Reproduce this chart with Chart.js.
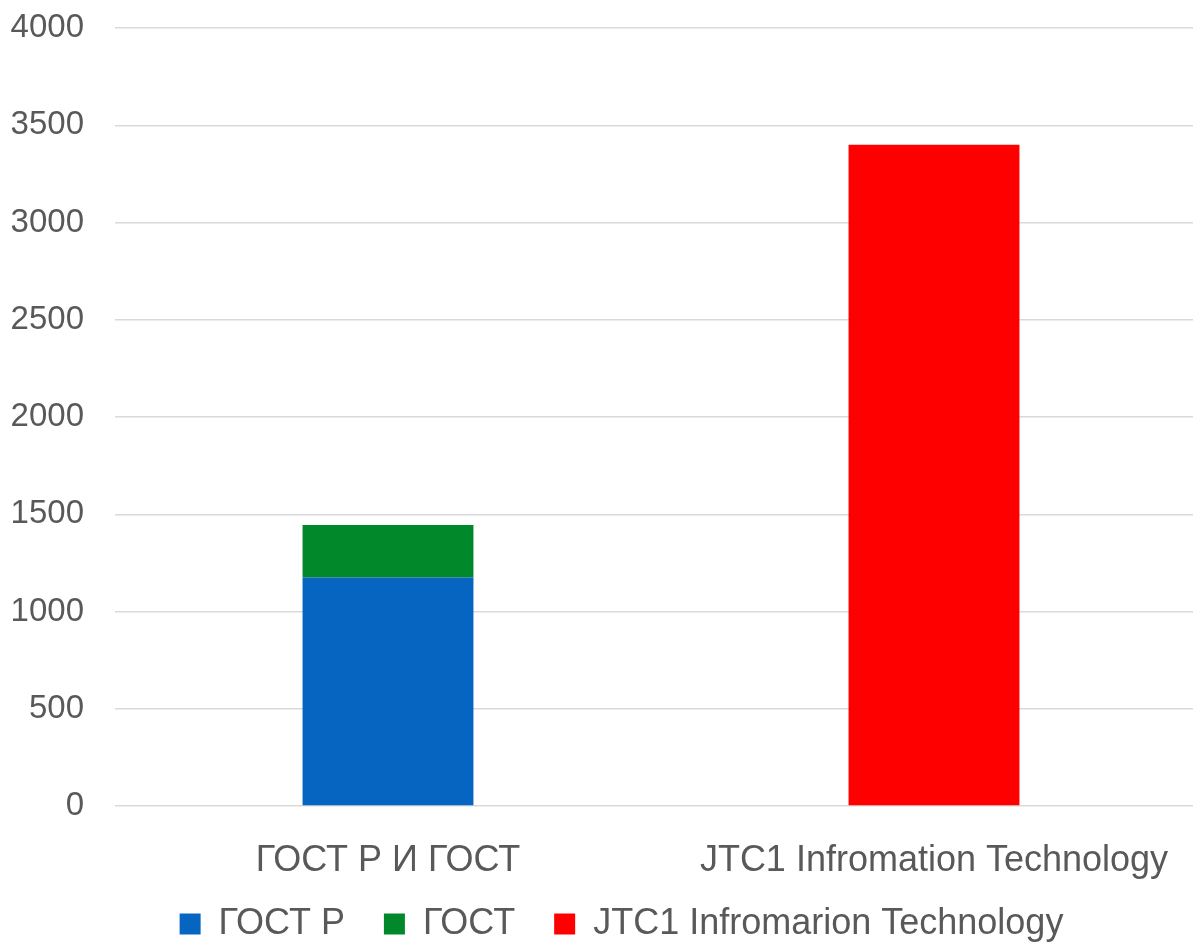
<!DOCTYPE html>
<html>
<head>
<meta charset="utf-8">
<script src="https://cdn.jsdelivr.net/npm/chart.js@4/dist/chart.umd.min.js"></script>
<style>
  html, body { margin: 0; padding: 0; overflow: hidden; background: #fff; }
  #wrap { position: absolute; left: 0; top: 0; width: 1207px; height: 952px; }
</style>
</head>
<body>
<div id="wrap"><canvas id="c"></canvas></div>
<script>
const categories = ['ГОСТ Р И ГОСТ', 'JTC1 Infromation Technology'];
const seriesNames = ['ГОСТ Р', 'ГОСТ', 'JTC1 Infromarion Technology'];
const gostR = [1175, null];
const gost = [270, null];
const jtc1 = [null, 3400];
const seriesColors = ['#0565C0', '#00882B', '#FF0000'];
const yMin = 0, yMax = 4000, yStep = 500;

const textColor = '#595959';
const fontFamily = '"Liberation Sans", Arial, sans-serif';
const tickFontSize = 33;
const labelFontSize = 36;

// widest y tick label, so the right-aligned labels sit a fixed gap left of the plot
const mctx = document.createElement('canvas').getContext('2d');
mctx.font = tickFontSize + 'px ' + fontFamily;
let widest = 0;
for (let v = yMin; v <= yMax; v += yStep) {
  widest = Math.max(widest, mctx.measureText(String(v)).width);
}

new Chart(document.getElementById('c'), {
  type: 'bar',
  data: {
    labels: categories,
    datasets: [
      { label: seriesNames[0], data: gostR, backgroundColor: seriesColors[0] },
      { label: seriesNames[1], data: gost, backgroundColor: seriesColors[1] },
      { label: seriesNames[2], data: jtc1, backgroundColor: seriesColors[2] }
    ]
  },
  options: {
    responsive: true,
    maintainAspectRatio: false,
    animation: false,
    categoryPercentage: 0.313,
    barPercentage: 1,
    layout: { padding: { left: 36, right: 0, top: 28, bottom: 0 } },
    plugins: {
      tooltip: { enabled: false },
      legend: {
        position: 'bottom',
        labels: {
          boxWidth: 21,
          boxHeight: 21,
          padding: 39,
          color: textColor,
          font: { family: fontFamily, size: labelFontSize }
        }
      }
    },
    scales: {
      x: {
        stacked: true,
        grid: { display: false, drawTicks: false },
        border: { display: false },
        ticks: {
          color: textColor,
          mirror: true,
          padding: -(54.6 + labelFontSize * 0.6),
          maxRotation: 0,
          autoSkip: false,
          font: { family: fontFamily, size: labelFontSize }
        },
        afterFit: function (scale) { scale.height = 61; }
      },
      y: {
        stacked: true,
        min: yMin,
        max: yMax,
        grid: { color: '#D9D9D9', lineWidth: 1.5, drawTicks: false },
        border: { display: false },
        ticks: {
          stepSize: yStep,
          color: textColor,
          mirror: true,
          crossAlign: 'far',
          padding: -(31 + widest),
          font: { family: fontFamily, size: tickFontSize },
          callback: function (v) { return String(v); }
        },
        afterFit: function (scale) { scale.width = 79; }
      }
    }
  }
});
</script>
</body>
</html>
